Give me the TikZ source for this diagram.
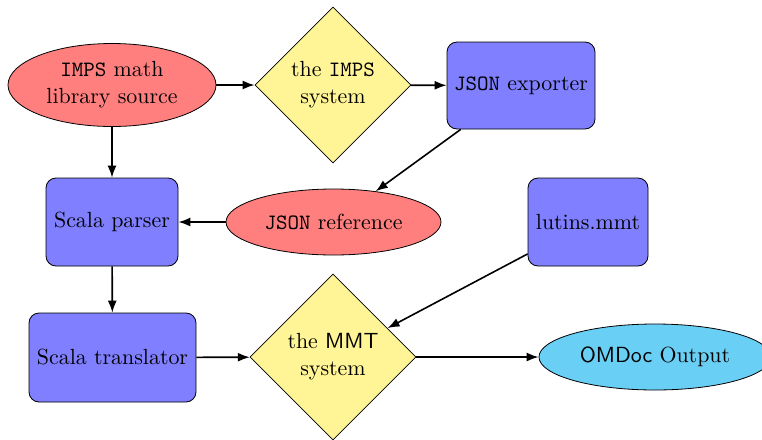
\documentclass[tikz,border=0pt]{standalone}
\usetikzlibrary{shapes.geometric,arrows.meta}
\definecolor{ellred}{RGB}{255,127,127}
\definecolor{boxblue}{RGB}{127,127,255}
\definecolor{diayellow}{RGB}{255,245,150}
\definecolor{outcyan}{RGB}{106,207,245}
\tikzset{
  ellnode/.style={ellipse,draw,fill=ellred,inner sep=0pt,align=center},
  boxnode/.style={rectangle,draw,fill=boxblue,rounded corners=5pt,inner sep=0pt,align=center},
  dianode/.style={diamond,draw,fill=diayellow,inner sep=0pt,align=center,shape aspect=1},
  outnode/.style={ellipse,draw,fill=outcyan,inner sep=0pt,align=center},
  conn/.style={-{Latex[length=6pt,width=4.5pt]},thick}
}
\begin{document}
\begin{tikzpicture}[x=0.5pt,y=-0.5pt,font=\fontsize{10.95pt}{13.4pt}\selectfont]
\useasboundingbox (0,0) rectangle (762,440);
\node[ellnode,minimum width=104pt,minimum height=41.5pt] (imps) at (112,85) {\texttt{IMPS} math\\library source};
\node[dianode,minimum width=78pt,minimum height=78pt] (impssys) at (333,85) {the \texttt{IMPS}\\system};
\node[boxnode,minimum width=74pt,minimum height=43.5pt] (exporter) at (521,85.5) {\texttt{JSON} exporter};
\node[boxnode,minimum width=66pt,minimum height=44pt] (parser) at (112,222) {Scala parser};
\node[ellnode,minimum width=107.5pt,minimum height=33pt] (jsonref) at (333.5,222) {\texttt{JSON} reference};
\node[boxnode,minimum width=60pt,minimum height=44pt] (lutins) at (588,222) {lutins.mmt};
\node[boxnode,minimum width=83.5pt,minimum height=44.5pt] (translator) at (112.5,357.5) {Scala translator};
\node[dianode,minimum width=83pt,minimum height=83pt] (mmt) at (333,357) {the \textsf{MMT}\\system};
\node[outnode,minimum width=116pt,minimum height=33pt] (omdoc) at (655,357) {\textsf{OMDoc} Output};
\draw[conn] (imps) -- (impssys);
\draw[conn] (impssys) -- (exporter);
\draw[conn] (exporter) -- (jsonref);
\draw[conn] (jsonref) -- (parser);
\draw[conn] (imps) -- (parser);
\draw[conn] (parser) -- (translator);
\draw[conn] (translator) -- (mmt);
\draw[conn] (lutins) -- (mmt);
\draw[conn] (mmt) -- (omdoc);
\end{tikzpicture}
\end{document}
